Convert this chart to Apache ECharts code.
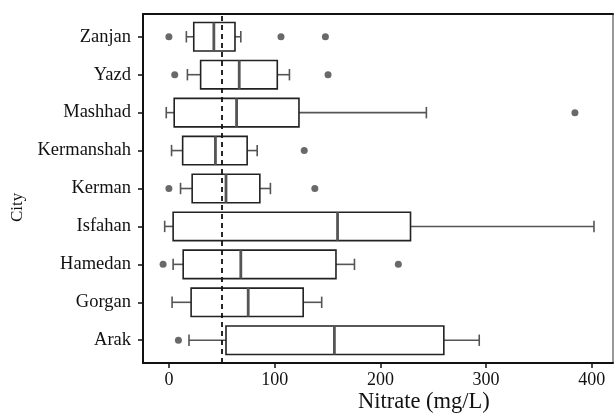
<!DOCTYPE html>
<html><head><meta charset="utf-8">
<script src="https://cdn.jsdelivr.net/npm/echarts@6/dist/echarts.min.js"></script>
<style>html,body{margin:0;padding:0;background:#fff}#c{width:614px;height:414px}</style>
</head><body><div id="c"></div>
<script>
// Cities from bottom (position 1) to top (position 9)
const cities = ['Arak','Gorgan','Hamedan','Isfahan','Kerman','Kermanshah','Mashhad','Yazd','Zanjan'];
const whiskerLow  = [19, 3, 4, -4, 11, 2.5, -2.5, 17.5, 16.5];
const q1          = [54, 21, 13.5, 4, 22, 13, 5, 30, 23.5];
const median      = [156.5, 75, 68, 159.5, 54, 44, 64, 66.5, 42.5];
const q3          = [260, 127, 158, 228.5, 86, 74, 123, 102.5, 62.5];
const whiskerHigh = [293.5, 144.5, 175.5, 402, 96, 83.5, 243.5, 114, 68];
// outliers: [value, city position]
const outliers = [[9,1],[-5.5,3],[217,3],[0,5],[138,5],[128,6],[384,7],[5.5,8],[150.5,8],[0,9],[106,9],[148,9]];
const xTicks = [0,100,200,300,400];
const guideline = 50;

const boxData = cities.map((c,i)=>[i+1, whiskerLow[i], q1[i], median[i], q3[i], whiskerHigh[i]]);
const chart = echarts.init(document.getElementById('c'));
const font = 'Liberation Serif';
chart.setOption({
  animation:false,
  grid:{left:143,right:1,top:14,bottom:51,show:true,borderColor:'#333',borderWidth:1},
  xAxis:[{
    type:'value',min:-24.5,max:420,
    axisLine:{show:true,onZero:false,lineStyle:{color:'#111',width:2}},
    axisTick:{show:true,length:5,lineStyle:{color:'#111',width:1.5},customValues:xTicks},
    axisLabel:{customValues:xTicks,color:'#111',fontFamily:font,fontSize:18,margin:8},
    splitLine:{show:false}
  },{
    type:'value',position:'top',min:-24.5,max:420,
    axisLine:{show:true,onZero:false,lineStyle:{color:'#111',width:2}},
    axisTick:{show:false},axisLabel:{show:false},splitLine:{show:false}
  }],
  yAxis:{
    type:'value',min:0.4,max:9.6,
    axisLine:{show:true,onZero:false,lineStyle:{color:'#111',width:2}},
    axisTick:{show:true,length:5,lineStyle:{color:'#111',width:1.5},customValues:[1,2,3,4,5,6,7,8,9]},
    axisLabel:{customValues:[1,2,3,4,5,6,7,8,9],formatter:v=>cities[Math.round(v)-1],color:'#111',fontFamily:font,fontSize:18.5,margin:12},
    splitLine:{show:false}
  },
  graphic:[
    {type:'text',left:358,top:391,style:{text:'Nitrate (mg/L)',font:'22.5px "Liberation Serif"',fill:'#111'}},
    {type:'text',x:9,y:222,rotation:Math.PI/2,style:{text:'City',font:'17px "Liberation Serif"',fill:'#111'}}
  ],
  series:[{
    type:'custom',
    data:boxData,
    encode:{x:[1,2,3,4,5],y:0},
    renderItem:function(params,api){
      const y=api.value(0);
      const lo=api.coord([api.value(1),y]);
      const a=api.coord([api.value(2),y]);
      const m=api.coord([api.value(3),y]);
      const b=api.coord([api.value(4),y]);
      const hi=api.coord([api.value(5),y]);
      const band=api.size([0,1])[1];
      const bh=band*0.75, ch=band*0.3;
      const cy=lo[1];
      const ws={stroke:'#555',lineWidth:1.6};
      return {type:'group',children:[
        {type:'line',shape:{x1:lo[0],y1:cy,x2:a[0],y2:cy},style:ws},
        {type:'line',shape:{x1:b[0],y1:cy,x2:hi[0],y2:cy},style:ws},
        {type:'line',shape:{x1:lo[0],y1:cy-ch/2,x2:lo[0],y2:cy+ch/2},style:ws},
        {type:'line',shape:{x1:hi[0],y1:cy-ch/2,x2:hi[0],y2:cy+ch/2},style:ws},
        {type:'rect',shape:{x:a[0],y:cy-bh/2,width:b[0]-a[0],height:bh},style:{fill:'#fff',stroke:'#222',lineWidth:1.6}},
        {type:'line',shape:{x1:m[0],y1:cy-bh/2,x2:m[0],y2:cy+bh/2},style:{stroke:'#555',lineWidth:2.8}}
      ]};
    },
    markLine:{silent:true,symbol:['none','none'],label:{show:false},
      lineStyle:{color:'#111',width:1.8,type:[5,4]},data:[{xAxis:guideline}]},
    z:2
  },{
    type:'scatter',data:outliers,symbolSize:7,itemStyle:{color:'#444'},z:3
  }]
});
</script></body></html>
